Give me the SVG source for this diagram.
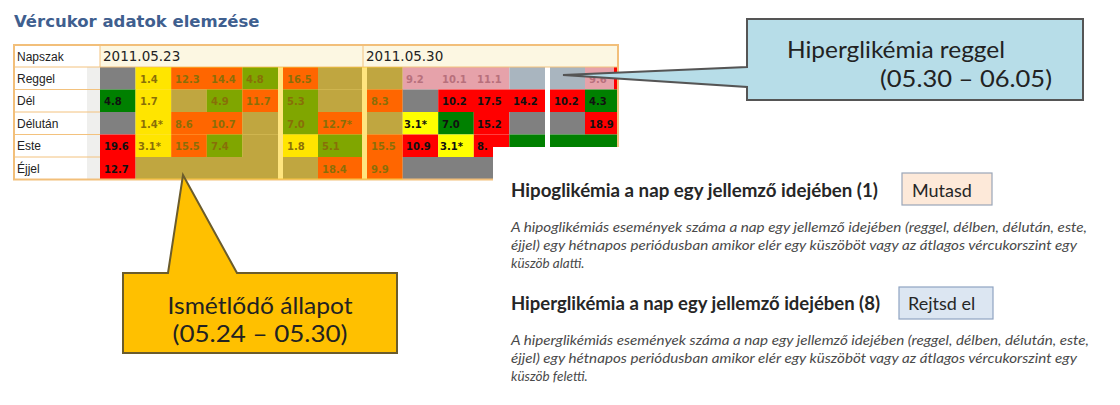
<svg xmlns="http://www.w3.org/2000/svg" width="1120" height="405" viewBox="0 0 1120 405">
  <style>
    .ttl{font-family:"DejaVu Sans",sans-serif;font-weight:bold;font-size:16.5px;fill:#3f5f8f}
    .hd{font-family:"DejaVu Sans",sans-serif;font-size:13.5px;fill:#222}
    .lb{font-family:"Liberation Sans",sans-serif;font-size:12px;fill:#222}
    .v{font-family:"DejaVu Sans",sans-serif;font-weight:bold;font-size:10px;fill:#111}
    .vp{font-family:"DejaVu Sans",sans-serif;font-weight:bold;font-size:10px;fill:#b8707c}
    .g{fill:#808080}.r{fill:#ff0000}.dg{fill:#008000}.y{fill:#ffff00}
    .pk{fill:#e6a2aa}.bgc{fill:#a9b5bf}
    .grid{stroke:#f3c27e;stroke-width:1;fill:none}
    .co{font-family:Lato,"Liberation Sans",sans-serif;font-size:24px;fill:#222}
    .h2{font-family:Lato,"Liberation Sans",sans-serif;font-weight:bold;font-size:18.5px;fill:#262626}
    .btn{font-family:Lato,"Liberation Sans",sans-serif;font-size:18px;fill:#262626}
    .p{font-family:Lato,"Liberation Sans",sans-serif;font-style:italic;font-size:13.5px;fill:#4a4a4a}
  </style>

  <rect width="1120" height="405" fill="#ffffff"/>

  <!-- page title -->
  <g id="title">
    <text class="ttl" x="14" y="27">Vércukor adatok elemzése</text>
  </g>

  <!-- glucose table -->
  <g id="table">
    <!-- header row -->
    <rect x="14" y="45" width="86" height="22" fill="#ffffff"/>
    <rect x="100" y="45" width="263" height="22" fill="#fcf7e2"/>
    <rect x="363" y="45" width="255" height="22" fill="#fcf7e2"/>
    <text class="lb" x="17" y="61">Napszak</text>
    <text class="hd" x="103" y="61">2011.05.23</text>
    <text class="hd" x="366" y="61">2011.05.30</text>

    <!-- row labels -->
    <rect x="14" y="67" width="86" height="112.5" fill="#ffffff"/>
    <rect x="87" y="67" width="13" height="112.5" fill="#efefed"/>
    <text class="lb" x="17" y="82.5" font-size="11.5">Reggel</text>
    <text class="lb" x="17" y="105" font-size="11.5">Dél</text>
    <text class="lb" x="17" y="127.5" font-size="11.5">Délután</text>
    <text class="lb" x="17" y="150" font-size="11.5">Este</text>
    <text class="lb" x="17" y="172.5" font-size="11.5">Éjjel</text>

    <!-- week of 2011.05.23 -->
    <g id="week1">
      <!-- Reggel -->
      <rect class="g" x="100" y="67" width="35.6" height="22.5"/>
      <rect class="y" x="135.6" y="67" width="35.6" height="22.5"/>
      <rect class="r" x="171.2" y="67" width="71.2" height="22.5"/>
      <rect class="dg" x="242.4" y="67" width="35.6" height="22.5"/>
      <rect class="r" x="283" y="67" width="35" height="22.5"/>
      <rect class="g" x="318" y="67" width="44" height="22.5"/>
      <text class="v" x="140" y="82.5">1.4</text>
      <text class="v" x="175" y="82.5">12.3</text>
      <text class="v" x="211" y="82.5">14.4</text>
      <text class="v" x="246" y="82.5">4.8</text>
      <text class="v" x="287" y="82.5">16.5</text>
      <!-- Dél -->
      <rect class="dg" x="100" y="89.5" width="35.6" height="22.5"/>
      <rect class="y" x="135.6" y="89.5" width="35.6" height="22.5"/>
      <rect class="g" x="171.2" y="89.5" width="35.6" height="22.5"/>
      <rect class="dg" x="206.8" y="89.5" width="35.6" height="22.5"/>
      <rect class="r" x="242.4" y="89.5" width="35.6" height="22.5"/>
      <rect class="dg" x="283" y="89.5" width="35" height="22.5"/>
      <rect class="g" x="318" y="89.5" width="44" height="22.5"/>
      <text class="v" x="104" y="105">4.8</text>
      <text class="v" x="140" y="105">1.7</text>
      <text class="v" x="211" y="105">4.9</text>
      <text class="v" x="246" y="105">11.7</text>
      <text class="v" x="287" y="105">5.3</text>
      <!-- Délután -->
      <rect class="g" x="100" y="112" width="35.6" height="22.5"/>
      <rect class="y" x="135.6" y="112" width="35.6" height="22.5"/>
      <rect class="r" x="171.2" y="112" width="71.2" height="22.5"/>
      <rect class="g" x="242.4" y="112" width="35.6" height="22.5"/>
      <rect class="dg" x="283" y="112" width="35" height="22.5"/>
      <rect class="r" x="318" y="112" width="44" height="22.5"/>
      <text class="v" x="140" y="127.5">1.4*</text>
      <text class="v" x="175" y="127.5">8.6</text>
      <text class="v" x="211" y="127.5">10.7</text>
      <text class="v" x="287" y="127.5">7.0</text>
      <text class="v" x="322" y="127.5">12.7*</text>
      <!-- Este -->
      <rect class="r" x="100" y="134.5" width="35.6" height="22.5"/>
      <rect class="y" x="135.6" y="134.5" width="35.6" height="22.5"/>
      <rect class="r" x="171.2" y="134.5" width="35.6" height="22.5"/>
      <rect class="dg" x="206.8" y="134.5" width="35.6" height="22.5"/>
      <rect class="g" x="242.4" y="134.5" width="35.6" height="22.5"/>
      <rect class="y" x="283" y="134.5" width="35" height="22.5"/>
      <rect class="dg" x="318" y="134.5" width="44" height="22.5"/>
      <text class="v" x="104" y="150">19.6</text>
      <text class="v" x="138" y="150">3.1*</text>
      <text class="v" x="175" y="150">15.5</text>
      <text class="v" x="211" y="150">7.4</text>
      <text class="v" x="287" y="150">1.8</text>
      <text class="v" x="322" y="150">5.1</text>
      <!-- Éjjel -->
      <rect class="r" x="100" y="157" width="35.6" height="22.5"/>
      <rect class="g" x="135.6" y="157" width="142.4" height="22.5"/>
      <rect class="g" x="283" y="157" width="35" height="22.5"/>
      <rect class="r" x="318" y="157" width="44" height="22.5"/>
      <text class="v" x="104" y="172.5">12.7</text>
      <text class="v" x="322" y="172.5">18.4</text>
    </g>

    <!-- week of 2011.05.30 -->
    <g id="week2">
      <!-- Reggel -->
      <rect class="g" x="367" y="67" width="35.6" height="22.5"/>
      <rect class="pk" x="402.6" y="67" width="106.8" height="22.5"/>
      <rect class="bgc" x="509.4" y="67" width="35.6" height="22.5"/>
      <rect class="bgc" x="550" y="67" width="35" height="22.5"/>
      <rect class="pk" x="585" y="67" width="29" height="22.5"/>
      <rect class="r" x="614" y="67" width="4" height="22.5"/>
      <text class="vp" x="406" y="82.5">9.2</text>
      <text class="vp" x="442" y="82.5">10.1</text>
      <text class="vp" x="477" y="82.5">11.1</text>
      <text class="vp" x="589" y="82.5">9.6</text>
      <!-- Dél -->
      <rect class="r" x="367" y="89.5" width="35.6" height="22.5"/>
      <rect class="g" x="402.6" y="89.5" width="35.6" height="22.5"/>
      <rect class="r" x="438.2" y="89.5" width="106.8" height="22.5"/>
      <rect class="r" x="550" y="89.5" width="35" height="22.5"/>
      <rect class="dg" x="585" y="89.5" width="33" height="22.5"/>
      <text class="v" x="371" y="105">8.3</text>
      <text class="v" x="442" y="105">10.2</text>
      <text class="v" x="477" y="105">17.5</text>
      <text class="v" x="513" y="105">14.2</text>
      <text class="v" x="554" y="105">10.2</text>
      <text class="v" x="589" y="105">4.3</text>
      <!-- Délután -->
      <rect class="g" x="367" y="112" width="35.6" height="22.5"/>
      <rect class="y" x="402.6" y="112" width="35.6" height="22.5"/>
      <rect class="dg" x="438.2" y="112" width="35.6" height="22.5"/>
      <rect class="r" x="473.8" y="112" width="35.6" height="22.5"/>
      <rect class="g" x="509.4" y="112" width="35.6" height="22.5"/>
      <rect class="g" x="550" y="112" width="35" height="22.5"/>
      <rect class="r" x="585" y="112" width="33" height="22.5"/>
      <text class="v" x="404" y="127.5">3.1*</text>
      <text class="v" x="442" y="127.5">7.0</text>
      <text class="v" x="477" y="127.5">15.2</text>
      <text class="v" x="589" y="127.5">18.9</text>
      <!-- Este -->
      <rect class="r" x="367" y="134.5" width="35.6" height="22.5"/>
      <rect class="r" x="402.6" y="134.5" width="35.6" height="22.5"/>
      <rect class="y" x="438.2" y="134.5" width="35.6" height="22.5"/>
      <rect class="r" x="473.8" y="134.5" width="35.6" height="22.5"/>
      <rect class="dg" x="509.4" y="134.5" width="35.6" height="22.5"/>
      <rect class="dg" x="550" y="134.5" width="68" height="22.5"/>
      <text class="v" x="371" y="150">15.5</text>
      <text class="v" x="406" y="150">10.9</text>
      <text class="v" x="440" y="150">3.1*</text>
      <text class="v" x="477" y="150">8.</text>
      <!-- Éjjel -->
      <rect class="r" x="367" y="157" width="35.6" height="22.5"/>
      <rect class="g" x="402.6" y="157" width="142.4" height="22.5"/>
      <text class="v" x="371" y="172.5">9.9</text>
    </g>

    <!-- grid lines -->
    <path class="grid" d="M14,89.5H100M14,112H100M14,134.5H100M14,157H100M100,45V67M363,45V67M14,67H618"/>
    <rect x="14" y="45" width="604" height="134.5" fill="none" stroke="#f2bf7a" stroke-width="2"/>
  </g>

  <!-- highlighted range on the table -->
  <g id="range-repeat">
    <rect x="135.6" y="67" width="267" height="112.5" fill="#ffcc00" opacity="0.5"/>
  </g>

  <!-- description panel -->
  <g id="panel">
    <rect x="493" y="147" width="627" height="258" fill="#ffffff"/>
    <g id="hypo">
      <text class="h2" x="511" y="197" textLength="367" lengthAdjust="spacingAndGlyphs">Hipoglikémia  a nap egy jellemző idejében (1)</text>
      <rect x="902" y="173" width="90" height="32" fill="#fde9d9" stroke="#9aa6b8" stroke-width="1.2"/>
      <text class="btn" x="912" y="197">Mutasd</text>
      <text class="p" x="511" y="232" textLength="576" lengthAdjust="spacingAndGlyphs">A hipoglikémiás események száma a nap egy jellemző idejében (reggel, délben, délután, este,</text>
      <text class="p" x="511" y="250" textLength="566" lengthAdjust="spacingAndGlyphs">éjjel) egy hétnapos periódusban amikor elér egy küszöböt vagy az átlagos vércukorszint egy</text>
      <text class="p" x="511" y="268">küszöb alatti.</text>
    </g>
    <g id="hyper">
      <text class="h2" x="511" y="310" textLength="369" lengthAdjust="spacingAndGlyphs">Hiperglikémia a nap egy jellemző idejében (8)</text>
      <rect x="899" y="287" width="94" height="32" fill="#dce6f2" stroke="#8fa4c2" stroke-width="1.2"/>
      <text class="btn" x="908" y="310">Rejtsd el</text>
      <text class="p" x="511" y="345" textLength="578" lengthAdjust="spacingAndGlyphs">A hiperglikémiás események száma a nap egy jellemző idejében (reggel, délben, délután, este,</text>
      <text class="p" x="511" y="363" textLength="566" lengthAdjust="spacingAndGlyphs">éjjel) egy hétnapos periódusban amikor elér egy küszöböt vagy az átlagos vércukorszint egy</text>
      <text class="p" x="511" y="381">küszöb feletti.</text>
    </g>
  </g>

  <!-- callout: repeating state -->
  <g id="callout-repeat">
    <path d="M123,273H168L183,175L237,273H397V353H123Z" fill="#ffc000" stroke="#6b5c2c" stroke-width="2" stroke-linejoin="miter"/>
    <text class="co" x="260" y="314" text-anchor="middle" textLength="185" lengthAdjust="spacingAndGlyphs">Ismétlődő állapot</text>
    <text class="co" x="260" y="342" text-anchor="middle" textLength="175" lengthAdjust="spacingAndGlyphs">(05.24 – 05.30)</text>
  </g>

  <!-- callout: morning hyperglycaemia -->
  <g id="callout-hyper">
    <path d="M747,19H1083V100H747V87L563,75L747,67Z" fill="#b7dde8" stroke="#555555" stroke-width="2"/>
    <text class="co" x="787" y="58" textLength="218" lengthAdjust="spacingAndGlyphs">Hiperglikémia reggel</text>
    <text class="co" x="1052" y="87" text-anchor="end" textLength="172" lengthAdjust="spacingAndGlyphs">(05.30 – 06.05)</text>
  </g>
</svg>
